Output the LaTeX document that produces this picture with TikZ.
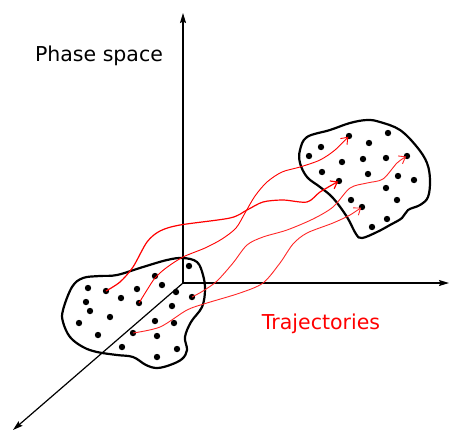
\documentclass[tikz,border=0pt]{standalone}
\usepackage{fontspec}
\setmainfont{DejaVu Sans}
\usepackage{xcolor}
\usepackage{tikz}
\usetikzlibrary{arrows.meta}
\newcommand{\pdots}[1]{%
  \foreach \n/\px/\py in {#1}{\node[pdot] (\n) at (\px,\py) {};}}

\begin{document}
\begin{tikzpicture}[x=1pt,y=-1pt,
    axis/.style={line width=1.2pt,-{Stealth[length=10pt,width=6pt,inset=1.5pt]}},
    blob/.style={line width=2.2pt,line join=round},
    pdot/.style={circle,fill=black,inner sep=0pt,minimum size=6.4pt},
    traj/.style={red,line width=0.9pt,shorten >=1pt,-{Straight Barb[length=6pt,width=9pt]}},
    lbl/.style={font=\fontsize{20.5}{24}\selectfont}]
    \useasboundingbox (0,0) rectangle (449,432);
    % axes
    \coordinate (O) at (183,283);
    \coordinate (up) at (183,13);
    \coordinate (right) at (449,283);
    \coordinate (front) at (13,430);
    \draw[axis] (O) -- (up);
    \draw[axis] (O) -- (right);
    \draw[axis] (O) -- (front);
    % blobs
    \draw[blob] plot[smooth cycle,tension=0.6] coordinates {
      (63,310) (72,287) (83,278) (100,276) (117,275) (143,267) (167,260)
      (183,258) (197,262) (203,275) (205,290) (202,307) (191,322) (185,337)
      (187,350) (182,359) (170,365) (157,368) (146,365) (133,357) (117,355)
      (97,352) (83,347) (70,337) (63,322)};
    \draw[blob] plot[smooth cycle,tension=0.6] coordinates {
      (300,150) (307,137) (330,130) (350,123) (367,120) (380,122) (400,130)
      (417,147) (427,163) (430,180) (428,197) (420,205) (408,210) (402,218)
      (390,225) (377,232) (362,238) (356,234) (347,217) (333,198) (320,187)
      (307,177) (300,163)};
    % points
    \pdots{l1/88/288, l2/106/291, l3/121/298, l4/137/289, l5/155/276, l6/162/285,
      l7/139/303, l8/86/302, l9/90/311, l10/79/323, l11/110/317, l12/98/335,
      l13/133/333, l14/122/347, l15/157/336, l16/155/321, l17/174/323,
      l18/172/306, l19/176/292, l20/192/297, l21/189/266, l22/157/357,
      l23/177/349}
    \pdots{r1/349/136, r2/388/133, r3/321/147, r4/369/143, r5/309/156,
      r6/342/162, r7/363/159, r8/386/158, r9/407/156, r10/322/172,
      r11/368/174, r12/398/176, r13/414/180, r14/339/181, r15/386/188,
      r16/351/200, r17/397/200, r18/362/207, r19/387/219, r20/372/227}
    % trajectories
    \draw[traj,line width=1.2pt] plot[smooth] coordinates {
      (l2) (120,282) (133,267) (147,242) (160,231) (180,225) (230,218)
      (247,210) (263,202) (283,200) (307,202) (320,192) (r14)};
    \draw[traj] plot[smooth] coordinates {
      (l7) (147,290) (155,278) (166,268) (183,257) (205,248) (222,239)
      (236,228) (245,213) (255,196) (267,182) (282,172) (300,167) (320,160)
      (335,150) (r1)};
    \draw[traj,red!85] plot[smooth] coordinates {
      (l20) (203,291) (217,281) (233,263) (247,245) (263,237) (287,230)
      (313,219) (333,207) (350,188) (367,183) (383,179) (397,163) (r9)};
    \draw[traj,red!85] plot[smooth] coordinates {
      (l13) (160,327) (187,310) (207,303) (240,293) (263,283) (280,263)
      (293,244) (307,233) (333,223) (350,215) (r18)};
    % labels
    \node[lbl] (title) at (99,56) {Phase space};
    \node[lbl,text=red] (trajlbl) at (321,324) {Trajectories};
  \end{tikzpicture}
\end{document}
